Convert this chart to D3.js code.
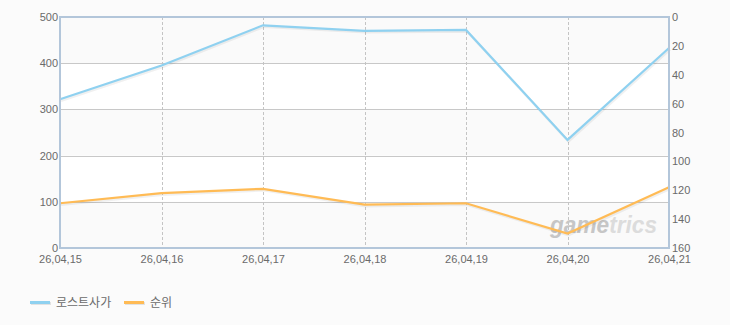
<!DOCTYPE html>
<html><head><meta charset="utf-8">
<script src="https://cdn.jsdelivr.net/npm/d3@7/dist/d3.min.js"></script>
<style>
html,body{margin:0;padding:0;background:#fbfbfb;}
svg{display:block;font-family:"Liberation Sans",Arial,sans-serif;}
</style></head>
<body>
<svg id="c" width="730" height="325"></svg>
<script>
const categories = ["26,04,15","26,04,16","26,04,17","26,04,18","26,04,19","26,04,20","26,04,21"];
const seriesNames = ["로스트사가","순위"];
const playersValues = [322, 395, 482, 470, 472, 234, 433];
const rankValues = [129, 122, 119, 130, 129, 150, 118];
const leftTicks = [0,100,200,300,400,500];
const rightTicks = [0,20,40,60,80,100,120,140,160];
const colors = ["#8fd1f0","#ffbb55"];

const svg = d3.select("#c");
const L = 60, R = 669, T = 17, B = 248;
const x = d3.scalePoint().domain(categories).range([L, R]);
const yL = d3.scaleLinear().domain([0,500]).range([B, T]);
const yR = d3.scaleLinear().domain([0,160]).range([T, B]);

// plot background bands
svg.append("rect").attr("x",L).attr("y",T).attr("width",R-L).attr("height",B-T).attr("fill","#ffffff");
for (let i=0;i<leftTicks.length-1;i++){
  if (i%2===0){
    svg.append("rect").attr("x",L).attr("y",yL(leftTicks[i+1])).attr("width",R-L)
      .attr("height",yL(leftTicks[i])-yL(leftTicks[i+1])).attr("fill","#fafafa");
  }
}
// horizontal grid
svg.append("g").selectAll("line").data(leftTicks.slice(1,-1)).join("line")
  .attr("x1",L).attr("x2",R).attr("y1",d=>Math.round(yL(d))+0.5).attr("y2",d=>Math.round(yL(d))+0.5)
  .attr("stroke","#c8c8c8").attr("stroke-width",1);
// vertical dashed grid
svg.append("g").selectAll("line").data(categories.slice(1,-1)).join("line")
  .attr("x1",d=>Math.round(x(d))+0.5).attr("x2",d=>Math.round(x(d))+0.5).attr("y1",T).attr("y2",B)
  .attr("stroke","#c4c4c4").attr("stroke-width",1).attr("stroke-dasharray","3,2");

// watermark
const wm = svg.append("text").attr("x",550).attr("y",233).attr("font-size",24)
  .attr("font-weight","bold").attr("font-style","italic").attr("textLength",107)
  .attr("lengthAdjust","spacingAndGlyphs");
wm.append("tspan").attr("fill","#c6c6c6").text("game");
wm.append("tspan").attr("fill","#dcdcdc").text("trics");

// lines
const lineL = d3.line().x((d,i)=>x(categories[i])).y(d=>yL(d));
const lineR = d3.line().x((d,i)=>x(categories[i])).y(d=>yR(d));
[[playersValues,lineL,colors[0]],[rankValues,lineR,colors[1]]].forEach(([vals,gen,col])=>{
  svg.append("path").attr("d",gen(vals)).attr("fill","none").attr("stroke","rgba(0,0,0,0.06)")
    .attr("stroke-width",2.5).attr("transform","translate(1,1.5)");
  svg.append("path").attr("d",gen(vals)).attr("fill","none").attr("stroke",col)
    .attr("stroke-width",2.2).attr("stroke-linejoin","miter");
});

// frame
const frameCol = "#b3c6da";
svg.append("line").attr("x1",L-1).attr("x2",R+1).attr("y1",T).attr("y2",T).attr("stroke",frameCol).attr("stroke-width",2);
svg.append("line").attr("x1",L-1).attr("x2",R+1).attr("y1",B).attr("y2",B).attr("stroke",frameCol).attr("stroke-width",2);
svg.append("line").attr("x1",L).attr("x2",L).attr("y1",T).attr("y2",B+1).attr("stroke",frameCol).attr("stroke-width",2);
svg.append("line").attr("x1",R).attr("x2",R).attr("y1",T).attr("y2",B+1).attr("stroke",frameCol).attr("stroke-width",2);

// axes labels
const txtCol = "#6a6a6a";
const gl = svg.append("g").attr("transform",`translate(${L},0)`)
  .call(d3.axisLeft(yL).tickValues(leftTicks).tickSize(0).tickPadding(2));
const gr = svg.append("g").attr("transform",`translate(${R},0)`)
  .call(d3.axisRight(yR).tickValues(rightTicks).tickSize(0).tickPadding(3));
const gb = svg.append("g").attr("transform",`translate(0,${B})`)
  .call(d3.axisBottom(x).tickSize(0).tickPadding(7));
[gl,gr,gb].forEach(g=>{
  g.select(".domain").remove();
  g.selectAll("text").attr("fill",txtCol).attr("font-size",11)
    .attr("font-family","'Liberation Sans',Arial,sans-serif");
});

// legend
const lg = svg.append("g");
const legendItems = [{name:seriesNames[0],col:colors[0],x:30},{name:seriesNames[1],col:colors[1],x:124}];
legendItems.forEach(it=>{
  lg.append("rect").attr("x",it.x+1).attr("y",302).attr("width",20).attr("height",3).attr("fill","#e2e2e2");
  lg.append("rect").attr("x",it.x).attr("y",301).attr("width",20).attr("height",3).attr("fill",it.col);
  lg.append("text").attr("x",it.x+26).attr("y",307).attr("fill",txtCol).attr("font-size",12)
    .attr("font-family","'Noto Sans CJK KR',sans-serif").text(it.name);
});
</script>
</body></html>
